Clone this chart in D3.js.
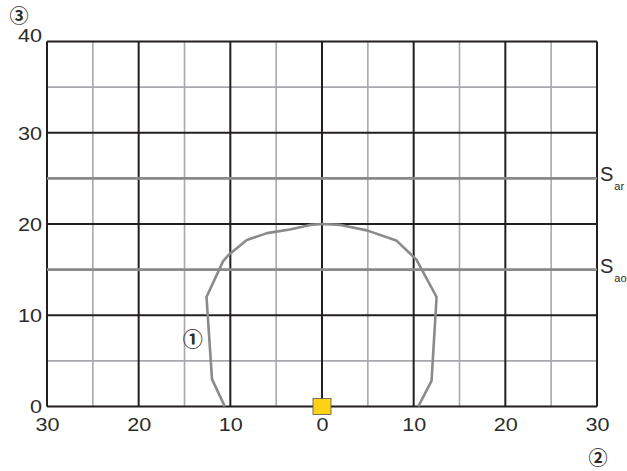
<!DOCTYPE html>
<html lang="en">
<head>
<meta charset="utf-8">
<title>Protective field</title>
<script src="https://d3js.org/d3.v7.min.js"></script>
<style>
  body { margin: 0; background: #fff; }
  svg text { font-family: "Liberation Sans", Arial, sans-serif; fill: #2b2b2b; }
  svg text.circ { font-family: "Noto Sans CJK SC", "DejaVu Sans", sans-serif; font-weight: bold; }
</style>
</head>
<body>
<svg id="chart" width="627" height="471"></svg>
<script>
  // tick values and fields
  var xTicks = [-30, -20, -10, 0, 10, 20, 30];
  var yTicks = [0, 10, 20, 30, 40];
  var minorX = [-25, -15, -5, 5, 15, 25];
  var minorY = [5, 15, 25, 35];

  // warning / protective field distances
  var fieldNames = ["ar", "ao"];
  var fieldValues = [25, 15];

  // scanning field contour (x, y)
  var contourX = [-10.6, -12.0, -12.6, -10.8, -10.2, -8.2, -6.0, -3.5, -1.3, 0, 2.0, 4.9, 8.1, 10.3, 12.5, 11.95, 10.5];
  var contourY = [0, 3, 12, 15.9, 16.6, 18.25, 19, 19.4, 19.9, 20, 19.9, 19.3, 18.2, 16.1, 12, 2.8, 0];

  var margin = { top: 41.5, right: 30, bottom: 64.5, left: 47 },
    width = 627 - margin.left - margin.right,
    height = 471 - margin.top - margin.bottom;

  var svg = d3.select("#chart")
    .append("g")
    .attr("transform", "translate(" + margin.left + "," + margin.top + ")");

  var x = d3.scaleLinear().domain([-30, 30]).range([0, width]);
  var y = d3.scaleLinear().domain([0, 40]).range([height, 0]);

  // minor grid
  svg.selectAll(".minx").data(minorX).enter().append("line")
    .attr("x1", d => x(d)).attr("x2", d => x(d))
    .attr("y1", 0).attr("y2", height)
    .attr("stroke", "#a7a9ac").attr("stroke-width", 1.6);
  svg.selectAll(".miny").data(minorY).enter().append("line")
    .attr("y1", d => y(d)).attr("y2", d => y(d))
    .attr("x1", 0).attr("x2", width)
    .attr("stroke", "#a7a9ac").attr("stroke-width", 1.6);

  // major grid
  svg.selectAll(".majx").data(xTicks).enter().append("line")
    .attr("x1", d => x(d)).attr("x2", d => x(d))
    .attr("y1", 0).attr("y2", height)
    .attr("stroke", "#231f20").attr("stroke-width", 2);
  svg.selectAll(".majy").data(yTicks).enter().append("line")
    .attr("y1", d => y(d)).attr("y2", d => y(d))
    .attr("x1", 0).attr("x2", width)
    .attr("stroke", "#231f20").attr("stroke-width", 2);

  // field lines
  svg.selectAll(".field").data(fieldValues).enter().append("line")
    .attr("y1", d => y(d)).attr("y2", d => y(d))
    .attr("x1", 0).attr("x2", width)
    .attr("stroke", "#8a8a8a").attr("stroke-width", 2.6);

  var labels = svg.selectAll(".flabel").data(fieldValues).enter().append("text")
    .attr("x", width + 3)
    .attr("y", d => y(d) + 3)
    .style("font-size", "20px");
  labels.append("tspan").text("S");
  labels.append("tspan")
    .style("font-size", "11px").attr("dx", 1).attr("dy", 9)
    .text((d, i) => fieldNames[i]);

  // contour
  var pts = contourX.map((v, i) => [v, contourY[i]]);
  svg.append("path")
    .datum(pts)
    .attr("fill", "none")
    .attr("stroke", "#8a8a8a")
    .attr("stroke-width", 2.6)
    .attr("stroke-linejoin", "round")
    .attr("d", d3.line().x(d => x(d[0])).y(d => y(d[1])));

  // scanner
  svg.append("rect")
    .attr("x", x(0) - 9).attr("y", y(0) - 8)
    .attr("width", 18).attr("height", 16)
    .attr("fill", "#fcd116").attr("stroke", "#555").attr("stroke-width", 0.8);

  // axes labels (wide face, so stretch the glyphs a bit)
  var xAxis = svg.append("g")
    .attr("transform", "translate(0," + height + ")")
    .call(d3.axisBottom(x).tickValues(xTicks).tickFormat(d => Math.abs(d)).tickSize(0).tickPadding(12));
  xAxis.select(".domain").remove();
  xAxis.selectAll("text")
    .style("font-size", "18px")
    .attr("fill", "#2b2b2b")
    .attr("textLength", function () { return this.textContent.length * 12; })
    .attr("lengthAdjust", "spacingAndGlyphs");

  var yAxis = svg.append("g")
    .call(d3.axisLeft(y).tickValues(yTicks).tickSize(0).tickPadding(5));
  yAxis.select(".domain").remove();
  yAxis.selectAll("text")
    .style("font-size", "18px")
    .attr("fill", "#2b2b2b")
    .attr("dy", d => d === 40 ? "0" : "0.35em")
    .attr("textLength", function () { return this.textContent.length * 12; })
    .attr("lengthAdjust", "spacingAndGlyphs");
  svg.selectAll(".tick text").style("font-family", "'Liberation Sans', Arial, sans-serif");

  // callouts
  svg.append("text").attr("class", "circ").attr("x", -28).attr("y", 14.5 - margin.top)
    .attr("text-anchor", "middle").attr("dominant-baseline", "central")
    .style("font-size", "19px").text("\u2462");
  svg.append("text").attr("class", "circ").attr("x", width + 1).attr("y", 456.5 - margin.top)
    .attr("text-anchor", "middle").attr("dominant-baseline", "central")
    .style("font-size", "19px").text("\u2461");
  svg.append("text").attr("class", "circ").attr("x", x(-14.1)).attr("y", y(7.5))
    .attr("text-anchor", "middle").attr("dominant-baseline", "central")
    .style("font-size", "20px").text("\u2460");
</script>
</body>
</html>
